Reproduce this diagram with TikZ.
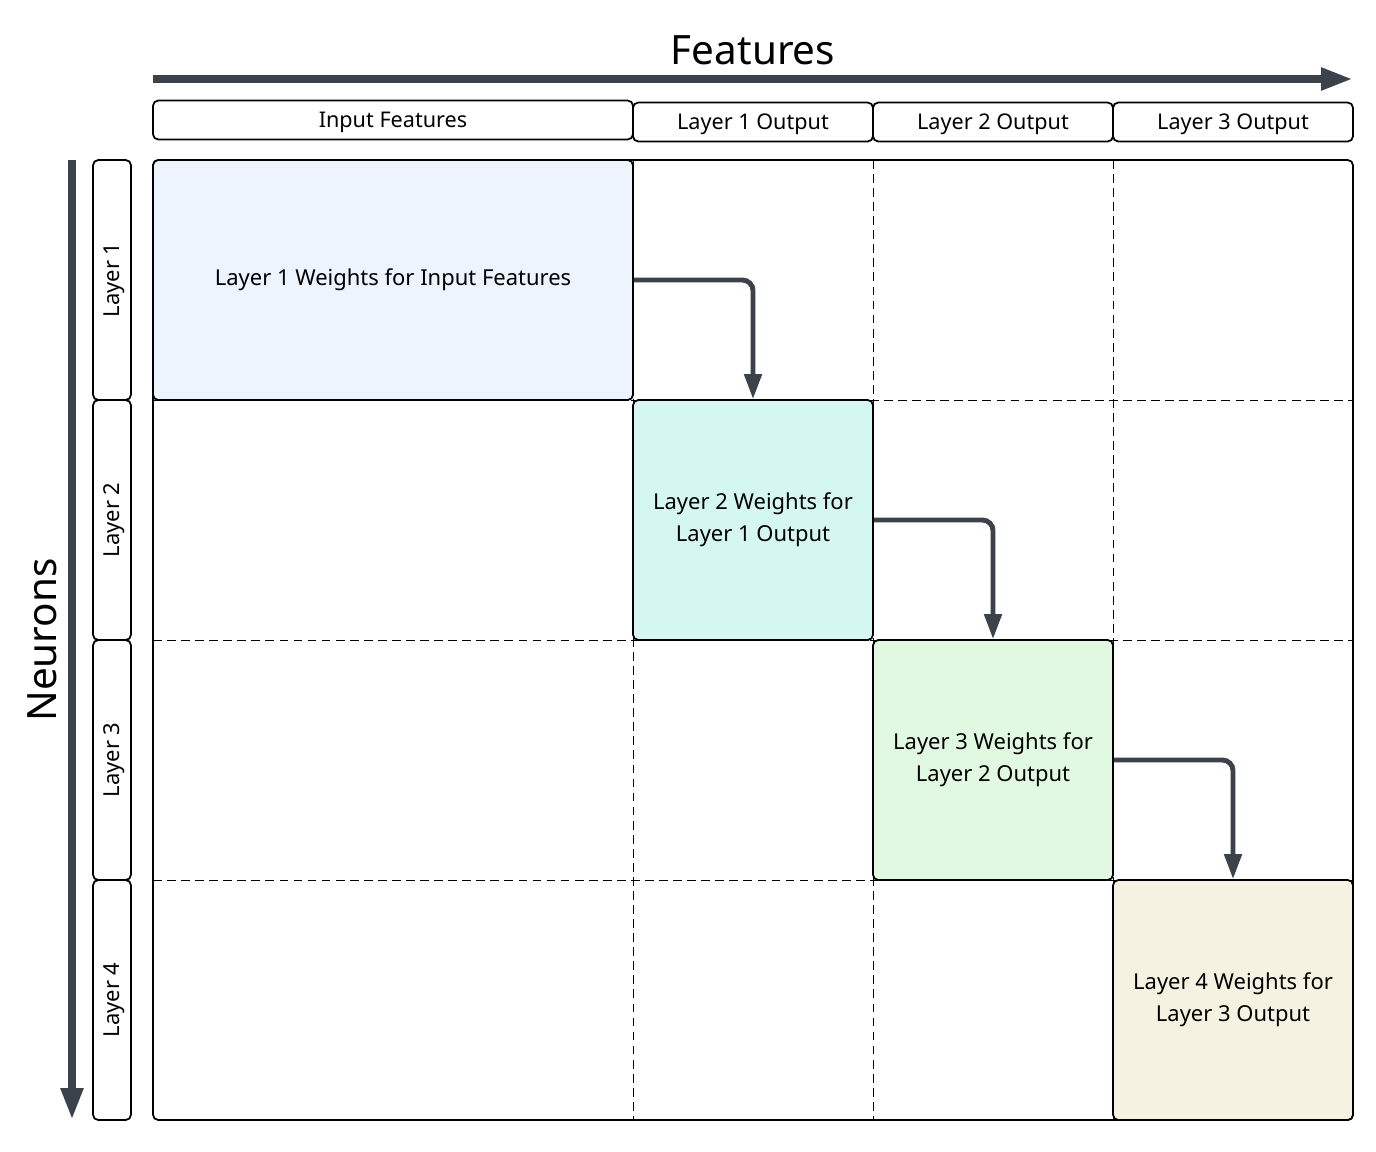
\documentclass[tikz,border=0pt]{standalone}
\usepackage{fontspec}
\setmainfont{Noto Sans}
\usetikzlibrary{arrows.meta,positioning,calc}
\definecolor{ink}{HTML}{3B424C}
\definecolor{wone}{HTML}{EDF4FE}
\definecolor{wtwo}{HTML}{D5F7F1}
\definecolor{wthree}{HTML}{E2F9E1}
\definecolor{wfour}{HTML}{F5F2E2}

\begin{document}
\begin{tikzpicture}[
  head/.style={rectangle, draw, line width=1pt, rounded corners=3pt, minimum height=0.78cm, inner sep=0pt, text depth=0pt, font=\fontsize{12.3}{14}\selectfont},
  rowlab/.style={rectangle, draw, line width=1pt, rounded corners=3pt, minimum width=0.76cm, minimum height=4.8cm, inner sep=0pt, font=\fontsize{12.5}{14}\selectfont},
  wbox/.style={rectangle, draw, line width=1pt, rounded corners=3pt, minimum width=4.8cm, minimum height=4.8cm, align=center, font=\fontsize{12.5}{18}\selectfont},
  cut/.style={thin, dash pattern=on 5pt off 3pt},
  flow/.style={-{Triangle[length=0.5cm,width=0.34cm]}, line width=2.8pt, ink, rounded corners=6pt},
  axis/.style={-{Triangle[length=0.64cm,width=0.42cm]}, line width=4.5pt, ink}
]
  \useasboundingbox (0,0) rectangle (27.52,-23.02);

  % axes
  \node[font=\fontsize{23}{26}\selectfont] (feat) at (15.06,-1.0) {Features};
  \coordinate (fa) at (3.06,-1.58);
  \coordinate (fb) at (27.06,-1.58);
  \draw[axis] (fa) -- (fb);
  \node[font=\fontsize{23}{26}\selectfont, rotate=90] (neur) at (0.84,-12.8) {Neurons};
  \coordinate (na) at (1.44,-3.2);
  \coordinate (nb) at (1.44,-22.4);
  \draw[axis] (na) -- (nb);

  % column headers
  \node[head, minimum width=9.6cm] (h0) at (7.86,-2.40) {Input Features};
  \node[head, minimum width=4.8cm] (h1) at (15.06,-2.44) {Layer 1 Output};
  \node[head, minimum width=4.8cm] (h2) at (19.86,-2.44) {Layer 2 Output};
  \node[head, minimum width=4.8cm] (h3) at (24.66,-2.44) {Layer 3 Output};

  % row labels
  \foreach \i/\y in {1/-5.6, 2/-10.4, 3/-15.2, 4/-20.0}
    \node[rowlab] (r\i) at (2.24,\y) {\rotatebox{90}{\raisebox{0pt}[\height][0pt]{Layer \i}}};

  % grid
  \node[rectangle, draw, line width=1pt, rounded corners=3pt, minimum width=24cm, minimum height=19.2cm] (grid) at (15.06,-12.8) {};
  \foreach \x in {12.66, 17.46, 22.26}
    \draw[cut] (\x,-3.2) -- (\x,-22.4);
  \foreach \y in {-8.0, -12.8, -17.6}
    \draw[cut] (3.06,\y) -- (27.06,\y);

  % weight blocks
  \node[wbox, fill=wone, minimum width=9.6cm] (w1) at (7.86,-5.6) {Layer 1 Weights for Input Features};
  \node[wbox, fill=wtwo] (w2) at (15.06,-10.4) {Layer 2 Weights for\\Layer 1 Output};
  \node[wbox, fill=wthree] (w3) at (19.86,-15.2) {Layer 3 Weights for\\Layer 2 Output};
  \node[wbox, fill=wfour] (w4) at (24.66,-20.0) {Layer 4 Weights for\\Layer 3 Output};

  \draw[flow] (w1.east) -| (w2.north);
  \draw[flow] (w2.east) -| (w3.north);
  \draw[flow] (w3.east) -| (w4.north);
\end{tikzpicture}
\end{document}
